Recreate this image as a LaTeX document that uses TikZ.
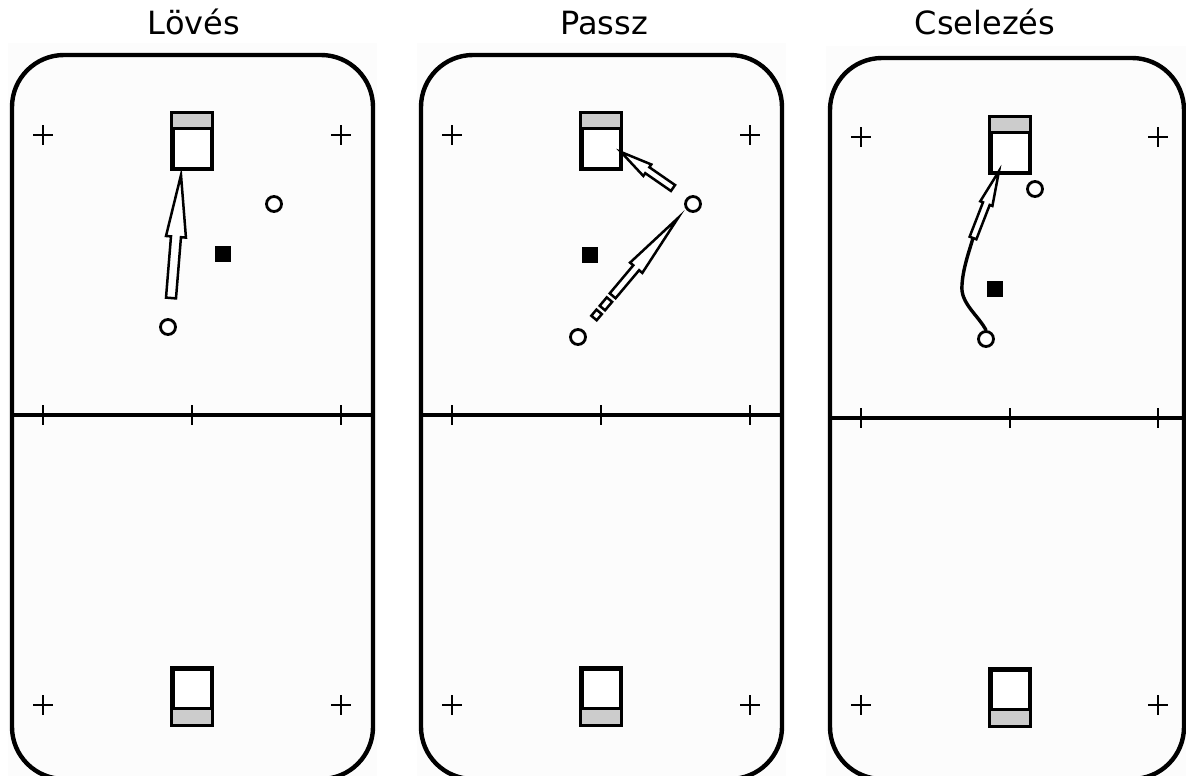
\documentclass[tikz,border=0pt]{standalone}
\usepackage{fontspec}
\setmainfont{DejaVu Sans}
\usetikzlibrary{calc}
\tikzset{
  rink/.style={draw, line width=4.4pt, rounded corners=52pt},
  panelbg/.style={fill=black!1},
  midline/.style={line width=3.4pt},
  tick/.style={line width=2.8pt},
  plussign/.style={line width=2.8pt},
  goalbox/.style={draw, line width=3pt, fill=white, inner sep=0pt, minimum width=38pt, minimum height=54pt},
  goalband/.style={fill=black!20},
  player/.style={circle, draw, line width=2.8pt, fill=white, inner sep=0pt, minimum size=15pt},
  defender/.style={rectangle, fill=black, inner sep=0pt, minimum size=16pt},
  arrowline/.style={draw, line width=2.5pt, fill=white, line join=miter},
  dribble/.style={draw, line width=3.4pt, line cap=round},
  title/.style={font=\fontsize{32}{38}\selectfont, anchor=base}
}
% block arrow: tail, tip, shaft half width, head half width, head length, name of head base
\newcommand{\blockarrow}[6]{%
  \coordinate (#6) at ($(#2)!#5!(#1)$);
  \path[arrowline] ($(#1)!#3!90:(#2)$) -- ($(#6)!#3!90:(#2)$) -- ($(#6)!#4!90:(#2)$) -- (#2)
     -- ($(#6)!#4!-90:(#2)$) -- ($(#6)!#3!-90:(#2)$) -- ($(#1)!#3!-90:(#2)$) -- cycle;}
% one piece of a dashed shaft
\newcommand{\shaftpiece}[3]{%
  \path[arrowline] ($(#1)!#3!90:(#2)$) -- ($(#2)!#3!-90:(#1)$) -- ($(#2)!#3!90:(#1)$) -- ($(#1)!#3!-90:(#2)$) -- cycle;}
% plus sign
\newcommand{\plusat}[2]{\draw[plussign] (#1-10,#2) -- (#1+10,#2) (#1,#2-10) -- (#1,#2+10);}
% goal with grey band
\newcommand{\goaltop}[3]{%
  \node[goalbox, minimum height=54pt] (#1) at (#2,#3+27) {};
  \fill[goalband] (#1.north west) rectangle ($(#1.north east)+(0,16)$);
  \draw[line width=3pt] ($(#1.north west)+(0,16)$) -- ($(#1.north east)+(0,16)$);
  \draw[line width=3pt] (#1.north west) rectangle (#1.south east);}
\newcommand{\goalbottom}[3]{%
  \node[goalbox, minimum height=55pt] (#1) at (#2,#3+27.5) {};
  \fill[goalband] (#1.south west) rectangle ($(#1.south east)+(0,-17)$);
  \draw[line width=3pt] ($(#1.south west)+(0,-17)$) -- ($(#1.south east)+(0,-17)$);
  \draw[line width=3pt] (#1.north west) rectangle (#1.south east);}
\begin{document}
\begin{tikzpicture}[x=1pt,y=-1pt]
\useasboundingbox (0,0) rectangle (1186,776);
\clip (0,0) rectangle (1186,776);
% ---------- backgrounds ----------
\fill[panelbg] (8,43) rectangle (377,776);
\fill[panelbg] (417,43) rectangle (786,776);
\fill[panelbg] (826,46) rectangle (1186,776);
% ---------- titles ----------
\node[title] (t1) at (194,35) {Lövés};
\node[title] (t2) at (604,35) {Passz};
\node[title] (t3) at (985,35) {Cselezés};
% ================= panel 1 =================
\draw[rink] (12,55) rectangle (373,779);
\draw[midline] (12,415) -- (373,415);
\foreach \x in {43,192,341} \draw[tick] (\x,405) -- (\x,425);
\plusat{43}{135}\plusat{341}{135}\plusat{43}{705}\plusat{341}{705}
\goaltop{g1t}{192}{114}
\goalbottom{g1b}{192}{669}
\node[player] (p1a) at (274,204) {};
\node[player] (p1b) at (168,327) {};
\node[defender] (d1) at (222.5,254) {};
\coordinate (s1tail) at (171,298);
\coordinate (s1tip) at (181,175);
\blockarrow{s1tail}{s1tip}{5pt}{10pt}{62pt}{s1base}
% ================= panel 2 =================
\draw[rink] (421,55) rectangle (782,779);
\draw[midline] (421,415) -- (782,415);
\foreach \x in {452,601,750} \draw[tick] (\x,405) -- (\x,425);
\plusat{452}{135}\plusat{750}{135}\plusat{452}{705}\plusat{750}{705}
\goaltop{g2t}{601}{114}
\goalbottom{g2b}{601}{669}
\node[player] (p2a) at (693,204) {};
\node[player] (p2b) at (578,337) {};
\node[defender] (d2) at (589.5,254.5) {};
% shot from p2a to goal
\coordinate (s2tail) at (673,188);
\coordinate (s2tip) at (621,152);
\blockarrow{s2tail}{s2tip}{3.6pt}{7pt}{32pt}{s2base}
% pass from p2b to p2a (dashed start)
\coordinate (q0) at (594,318);
\coordinate (qtip) at (678,218);
\coordinate (q1) at ($(q0)!8pt!(qtip)$);
\coordinate (q2) at ($(q0)!13pt!(qtip)$);
\coordinate (q3) at ($(q0)!24pt!(qtip)$);
\coordinate (q4) at ($(q0)!29pt!(qtip)$);
\shaftpiece{q0}{q1}{3.5pt}
\shaftpiece{q2}{q3}{3.5pt}
\blockarrow{q4}{qtip}{3.8pt}{8pt}{65pt}{qbase}
% ================= panel 3 =================
\draw[rink] (830,58) rectangle (1184,779);
\draw[midline] (830,418) -- (1184,418);
\foreach \x in {861,1010,1158} \draw[tick] (\x,408) -- (\x,428);
\plusat{861}{137}\plusat{1158}{137}\plusat{861}{705}\plusat{1158}{705}
\goaltop{g3t}{1010}{118}
\goalbottom{g3b}{1010}{670}
\node[player] (p3a) at (1035,189) {};
\node[player] (p3b) at (986,339) {};
\node[defender] (d3) at (995,288.5) {};
\coordinate (c3tail) at (973,238);
\coordinate (c3tip) at (999,171);
\draw[dribble] (p3b.north) .. controls (978,315) and (960,303) .. (962,285)
   .. controls (963,268) and (969,252) .. (c3tail);
\blockarrow{c3tail}{c3tip}{3.6pt}{6.5pt}{35pt}{c3base}
\end{tikzpicture}
\end{document}
